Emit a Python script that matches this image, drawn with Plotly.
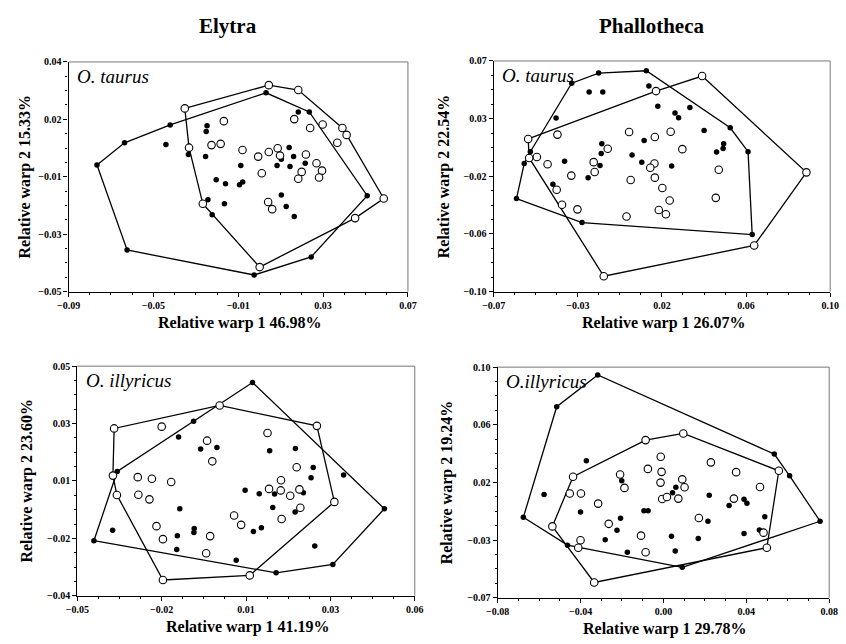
import numpy as np
import plotly.graph_objects as go

# ---------------- data ----------------
# Panel 1: Elytra, O. taurus
p1_filled_x = [-0.0766, -0.0636, -0.0421, -0.0441, -0.0247, -0.0251, -0.0335, -0.0254, 0.0031, 0.0183, 0.0235,
               0.0140, 0.0103, 0.0161, 0.0083, 0.0144, 0.0216, -0.0088, -0.0204, -0.0160, -0.0094, -0.0079,
               -0.0243, -0.0165, -0.0223, 0.0103, 0.0126, 0.0164, 0.0508, 0.0244, -0.0025, -0.0624]
p1_filled_y = [-0.0004, 0.0083, 0.0153, 0.0076, 0.0150, 0.0127, 0.0037, 0.0029, 0.0279, 0.0204, 0.0204,
               0.0065, 0.0019, 0.0029, -0.0006, -0.0010, 0.0003, -0.0006, -0.0062, -0.0077, -0.0081, -0.0071,
               -0.0140, -0.0156, -0.0199, -0.0121, -0.0167, -0.0206, -0.0124, -0.0364, -0.0435, -0.0337]
p1_open_x = [-0.0352, -0.0332, -0.0168, -0.0226, -0.0183, -0.0080, -0.0006, 0.0044, 0.0086, 0.0097, 0.0044,
             0.0183, 0.0164, 0.0239, 0.0298, 0.0391, 0.0411, 0.0367, 0.0219, 0.0269, 0.0295, 0.0281, 0.0199,
             0.0183, 0.0011, 0.0041, 0.0060, -0.0267, 0.0586, 0.0451, 0.0001]
p1_open_y = [0.0218, 0.0064, 0.0168, 0.0074, 0.0079, 0.0055, 0.0029, 0.0047, 0.0062, 0.0033, 0.0309,
             0.0290, 0.0176, 0.0141, 0.0155, 0.0141, 0.0114, 0.0083, 0.0037, 0.0003, -0.0026, -0.0053, -0.0031,
             -0.0058, -0.0036, -0.0149, -0.0177, -0.0156, -0.0135, -0.0212, -0.0404]

# Panel 2: Phallotheca, O. taurus
p2_filled_x = [-0.0306, -0.0170, 0.0071, 0.0084, -0.0218, -0.0149, -0.0385, 0.0129, 0.0216, 0.0234, 0.0291,
               0.0363, 0.0495, 0.0462, 0.0459, 0.0426, 0.0585, 0.0060, -0.0154, -0.0157, -0.0001, -0.0515,
               -0.0546, -0.0342, -0.0163, 0.0048, 0.0199, -0.0223, -0.0401, -0.0585, -0.0254, 0.0606]
p2_filled_y = [0.0536, 0.0611, 0.0628, 0.0516, 0.0471, 0.0471, 0.0280, 0.0367, 0.0316, 0.0282, 0.0357,
               0.0188, 0.0207, 0.0089, 0.0055, 0.0029, 0.0031, 0.0113, 0.0089, 0.0017, 0.0007, 0.0031,
               -0.0056, -0.0039, -0.0070, -0.0046, -0.0075, -0.0160, -0.0208, -0.0314, -0.0491, -0.0580]
p2_open_x = [0.0353, 0.0120, -0.0526, -0.0378, -0.0521, -0.0482, -0.0428, -0.0124, -0.0195, -0.0190, -0.0308,
             -0.0382, -0.0355, -0.0277, -0.0016, 0.0114, 0.0194, 0.0253, 0.0112, 0.0091, -0.0008, 0.0114,
             0.0152, 0.0189, 0.0134, 0.0170, -0.0029, 0.0437, 0.0422, 0.0880, 0.0616, -0.0144]
p2_open_y = [0.0589, 0.0478, 0.0125, 0.0157, -0.0015, -0.0008, -0.0061, 0.0053, -0.0046, -0.0119, -0.0145,
             -0.0249, -0.0360, -0.0394, 0.0176, 0.0140, 0.0178, 0.0050, -0.0056, -0.0087, -0.0177, -0.0160,
             -0.0237, -0.0329, -0.0399, -0.0430, -0.0447, -0.0102, -0.0309, -0.0121, -0.0660, -0.0887]

# Panel 3: Elytra, O. illyricus
p3_filled_x = [0.0071, -0.0121, -0.0170, -0.0098, -0.0045, 0.0127, 0.0211, 0.0269, 0.0262, -0.0370, 0.0368,
               0.0501, 0.0047, 0.0093, 0.0143, 0.0237, 0.0137, -0.0166, 0.0210, -0.0385, -0.0446, -0.0174,
               -0.0119, -0.0120, -0.0176, 0.0074, 0.0100, 0.0018, 0.0274, 0.0333, 0.0148]
p3_filled_y = [0.0436, 0.0284, 0.0222, 0.0175, 0.0181, 0.0168, 0.0177, 0.0103, 0.0063, 0.0087, 0.0073,
               -0.0059, 0.0014, 0.0000, -0.0001, 0.0004, -0.0054, -0.0059, -0.0072, -0.0143, -0.0184, -0.0165,
               -0.0136, -0.0152, -0.0219, -0.0148, -0.0133, -0.0261, -0.0205, -0.0277, -0.0310]
p3_open_x = [-0.0036, -0.0380, -0.0225, -0.0077, -0.0060, 0.0120, 0.0281, 0.0215, -0.0384, -0.0303, -0.0257,
             -0.0194, -0.0371, -0.0301, -0.0265, 0.0164, 0.0125, 0.0163, 0.0194, 0.0224, 0.0227, 0.0338,
             0.0011, 0.0034, 0.0166, -0.0242, -0.0221, -0.0067, -0.0080, 0.0062, -0.0221]
p3_open_y = [0.0346, 0.0256, 0.0263, 0.0208, 0.0127, 0.0238, 0.0266, 0.0104, 0.0071, 0.0065, 0.0059,
             0.0046, -0.0005, -0.0004, -0.0022, 0.0053, 0.0019, 0.0013, -0.0008, 0.0017, -0.0055, -0.0032,
             -0.0085, -0.0122, -0.0099, -0.0127, -0.0178, -0.0166, -0.0233, -0.0320, -0.0338]

# Panel 4: Phallotheca, O. illyricus
p4_filled_x = [-0.0317, -0.0515, 0.0535, 0.0609, -0.0372, -0.0576, -0.0201, 0.0060, 0.0044, 0.0221, 0.0389,
               0.0403, 0.0317, -0.0400, -0.0094, -0.0074, -0.0207, 0.0215, 0.0489, -0.0676, 0.0756, -0.0224,
               -0.0281, 0.0039, 0.0168, 0.0389, 0.0463, -0.0463, -0.0174, 0.0057, 0.0091]
p4_filled_y = [0.0942, 0.0708, 0.0359, 0.0199, 0.0310, 0.0062, 0.0163, 0.0115, 0.0074, 0.0055, 0.0026,
               -0.0003, -0.0020, -0.0068, -0.0059, -0.0059, -0.0114, -0.0136, -0.0102, -0.0107, -0.0136, -0.0203,
               -0.0273, -0.0247, -0.0264, -0.0227, -0.0201, -0.0312, -0.0365, -0.0355, -0.0476]
p4_open_x = [-0.0086, 0.0096, -0.0013, 0.0229, 0.0351, -0.0075, -0.0009, -0.0209, -0.0436, -0.0014, -0.0188,
             0.0091, 0.0102, -0.0452, -0.0398, 0.0466, -0.0006, 0.0017, 0.0072, 0.0340, -0.0315, 0.0557,
             0.0171, -0.0264, -0.0536, -0.0108, -0.0400, -0.0411, -0.0086, 0.0483, 0.0499, -0.0334]
p4_open_y = [0.0462, 0.0511, 0.0339, 0.0298, 0.0226, 0.0250, 0.0228, 0.0209, 0.0192, 0.0149, 0.0110,
             0.0173, 0.0115, 0.0069, 0.0069, 0.0117, 0.0028, 0.0043, 0.0031, 0.0031, -0.0006, 0.0236,
             -0.0112, -0.0155, -0.0174, -0.0242, -0.0276, -0.0331, -0.0365, -0.0220, -0.0331, -0.0587]

# axis ranges and tick labels
p1_xrange, p1_yrange = [-0.09, 0.07], [-0.05, 0.04]
p2_xrange, p2_yrange = [-0.07, 0.10], [-0.10, 0.07]
p3_xrange, p3_yrange = [-0.05, 0.06], [-0.04, 0.05]
p4_xrange, p4_yrange = [-0.08, 0.08], [-0.07, 0.10]
p1_xticks = ["\u22120.09", "\u22120.05", "\u22120.01", "0.03", "0.07"]
p1_yticks = ["\u22120.05", "\u22120.03", "\u22120.01", "0.02", "0.04"]
p2_xticks = ["\u22120.07", "\u22120.03", "0.02", "0.06", "0.10"]
p2_yticks = ["\u22120.10", "\u22120.06", "\u22120.02", "0.03", "0.07"]
p3_xticks = ["\u22120.05", "\u22120.02", "0.01", "0.03", "0.06"]
p3_yticks = ["\u22120.04", "\u22120.02", "0.01", "0.03", "0.05"]
p4_xticks = ["\u22120.08", "\u22120.04", "0.00", "0.04", "0.08"]
p4_yticks = ["\u22120.07", "\u22120.03", "0.02", "0.06", "0.10"]

x_titles = ["Relative warp 1 46.98%", "Relative warp 1 26.07%", "Relative warp 1 41.19%", "Relative warp 1 29.78%"]
y_titles = ["Relative warp 2 15.33%", "Relative warp 2 22.54%", "Relative warp 2 23.60%", "Relative warp 2 19.24%"]
species = ["O. taurus", "O. taurus", "O. illyricus", "O.illyricus"]
column_titles = ["Elytra", "Phallotheca"]

# ---------------- helpers ----------------
def hull(xs, ys):
    pts = sorted(set(zip(xs, ys)))
    def cross(o, a, b):
        return (a[0]-o[0])*(b[1]-o[1]) - (a[1]-o[1])*(b[0]-o[0])
    lower, upper = [], []
    for p in pts:
        while len(lower) >= 2 and cross(lower[-2], lower[-1], p) <= 0:
            lower.pop()
        lower.append(p)
    for p in reversed(pts):
        while len(upper) >= 2 and cross(upper[-2], upper[-1], p) <= 0:
            upper.pop()
        upper.append(p)
    h = lower[:-1] + upper[:-1]
    h.append(h[0])
    return [p[0] for p in h], [p[1] for p in h]

W, H = 846, 644
# domains in pixels: (left, right, top, bottom)
px = [(58, 406, 57, 291), (494, 839, 56, 291), (67, 413, 367, 601), (498, 838, 368, 603)]
ytitle_x = [13, 443, 15, 447]

panels = [
    (p1_filled_x, p1_filled_y, p1_open_x, p1_open_y, p1_xrange, p1_yrange, p1_xticks, p1_yticks),
    (p2_filled_x, p2_filled_y, p2_open_x, p2_open_y, p2_xrange, p2_yrange, p2_xticks, p2_yticks),
    (p3_filled_x, p3_filled_y, p3_open_x, p3_open_y, p3_xrange, p3_yrange, p3_xticks, p3_yticks),
    (p4_filled_x, p4_filled_y, p4_open_x, p4_open_y, p4_xrange, p4_yrange, p4_xticks, p4_yticks),
]

SERIF = "Liberation Serif, Times New Roman, serif"
fig = go.Figure()
layout = dict(width=W, height=H, margin=dict(l=0, r=0, t=0, b=0), paper_bgcolor="white",
              plot_bgcolor="white", showlegend=False, font=dict(family=SERIF, color="black"))
annotations = []
shapes = []

for i, (fx, fy, ox, oy, xr, yr, xt, yt) in enumerate(panels):
    k = "" if i == 0 else str(i + 1)
    xa, ya = "x" + k, "y" + k
    for gx, gy in ((fx, fy), (ox, oy)):
        hx, hy = hull(gx, gy)
        fig.add_trace(go.Scatter(x=hx, y=hy, mode="lines", xaxis=xa, yaxis=ya,
                                 line=dict(color="black", width=1.3), hoverinfo="skip"))
    fig.add_trace(go.Scatter(x=fx, y=fy, mode="markers", xaxis=xa, yaxis=ya,
                             marker=dict(size=5.5, color="black")))
    fig.add_trace(go.Scatter(x=ox, y=oy, mode="markers", xaxis=xa, yaxis=ya,
                             marker=dict(size=7.5, color="white", line=dict(color="black", width=1.1))))
    l, r, t, b = px[i]
    xv = np.linspace(xr[0], xr[1], 5)
    yv = np.linspace(yr[0], yr[1], 5)
    common = dict(showgrid=False, zeroline=False, showline=True, linecolor="black", linewidth=1.2,
                  ticks="outside", ticklen=4, tickwidth=1, tickcolor="black",
                  tickfont=dict(family=SERIF, size=10, color="black", weight="bold"))
    layout["xaxis" + k] = dict(common, domain=[l / W, r / W], range=xr, anchor=ya,
                               tickvals=list(xv), ticktext=xt,
                               minor=dict(ticks="outside", ticklen=2, tickcolor="black",
                                          tick0=xr[0], dtick=(xr[1] - xr[0]) / 16))
    layout["yaxis" + k] = dict(common, domain=[1 - b / H, 1 - t / H], range=yr, anchor=xa,
                               tickvals=list(yv), ticktext=yt,
                               minor=dict(ticks="outside", ticklen=2, tickcolor="black",
                                          tick0=yr[0], dtick=(yr[1] - yr[0]) / 16))
    # top and right frame lines (lighter)
    shapes.append(dict(type="line", xref=xa + " domain", yref=ya + " domain", x0=0, x1=1, y0=1, y1=1,
                       line=dict(color="#777777", width=1)))
    shapes.append(dict(type="line", xref=xa + " domain", yref=ya + " domain", x0=1, x1=1, y0=0, y1=1,
                       line=dict(color="#777777", width=1)))
    # species label
    annotations.append(dict(text="<i>" + species[i] + "</i>", xref=xa + " domain", yref=ya + " domain",
                            x=0.02, y=0.99, xanchor="left", yanchor="top", showarrow=False,
                            font=dict(family=SERIF, size=19, color="black")))
    # axis titles
    annotations.append(dict(text="<b>" + x_titles[i] + "</b>", xref="paper", yref="paper",
                            x=((l + r) / 2 + 2) / W, y=1 - (b + 32) / H, xanchor="center", yanchor="middle",
                            showarrow=False, font=dict(family=SERIF, size=16, color="black")))
    annotations.append(dict(text="<b>" + y_titles[i] + "</b>", xref="paper", yref="paper",
                            x=ytitle_x[i] / W, y=1 - ((t + b) / 2) / H, xanchor="center", yanchor="middle",
                            textangle=-90, showarrow=False, font=dict(family=SERIF, size=16, color="black")))

annotations.append(dict(text="<b>" + column_titles[0] + "</b>", xref="paper", yref="paper",
                        x=222 / W, y=1 - 20 / H, xanchor="center", yanchor="middle", showarrow=False,
                        font=dict(family=SERIF, size=21, color="black")))
annotations.append(dict(text="<b>" + column_titles[1] + "</b>", xref="paper", yref="paper",
                        x=656 / W, y=1 - 20 / H, xanchor="center", yanchor="middle", showarrow=False,
                        font=dict(family=SERIF, size=21, color="black")))

layout["annotations"] = annotations
layout["shapes"] = shapes
fig.update_layout(**layout)
fig.write_html("out.html")
